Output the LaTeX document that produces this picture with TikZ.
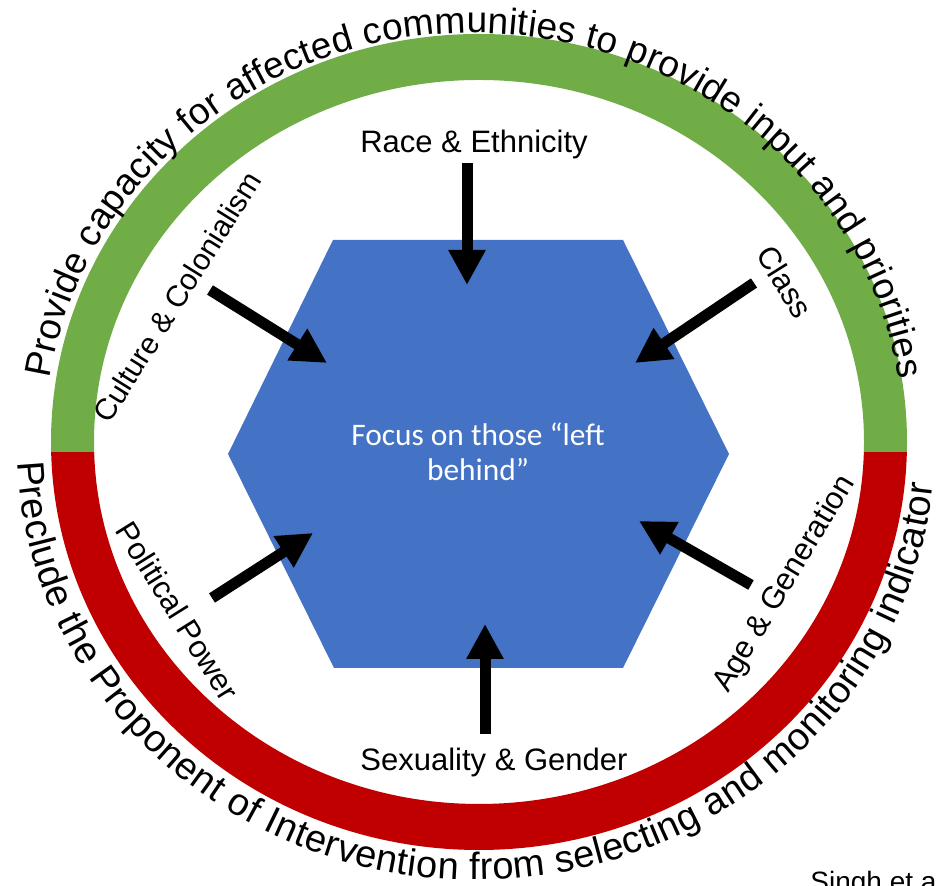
\documentclass[tikz,border=0pt]{standalone}
\usepackage{fontspec}
\setmainfont{Liberation Sans}
\newfontfamily\focusfont{Carlito}
\usetikzlibrary{arrows.meta,decorations.text}
\definecolor{ringgreen}{HTML}{70AD47}
\definecolor{ringred}{HTML}{C00000}
\definecolor{hexblue}{HTML}{4472C4}
\newcommand{\topringfont}{\fontsize{18.5}{21}\selectfont}
\newcommand{\bottomringfont}{\fontsize{19}{21}\selectfont}

\begin{document}
\begin{tikzpicture}[x=0.5pt, y=0.5pt,
    factor/.style={font=\fontsize{15.5}{18}\selectfont, inner sep=0pt},
    inarrow/.style={line width=5.5pt, -{Triangle[width=17.5pt, length=17.5pt]}},
    ringtext/.style={decorate, decoration={text along path, text align={fit to path}}}]
    \useasboundingbox (0,0) rectangle (937,886);

    % Ring, upper half (green)
    \begin{scope}
        \clip (0,433) rectangle (937,886);
        \fill[ringgreen, even odd rule] (479,444) ellipse [x radius=428, y radius=408]
            (479,444) ellipse [x radius=385, y radius=362];
    \end{scope}

    % Ring, lower half (red)
    \begin{scope}
        \clip (0,0) rectangle (937,433);
        \fill[ringred, even odd rule] (479,444) ellipse [x radius=428, y radius=408]
            (479,444) ellipse [x radius=385, y radius=362];
    \end{scope}

    % Text round the ring
    \path[ringtext, decoration={text={|\topringfont|Provide capacity for affected communities to provide input and priorities}}]
        ([shift={(171:430 and 410)}]474,443) arc[start angle=171, end angle=9, x radius=430, y radius=410];
    \path[ringtext, decoration={text={|\bottomringfont|Preclude the Proponent of Intervention from selecting and monitoring indicator}}]
        ([shift={(182.5:459 and 437)}]476,443) arc[start angle=182.5, end angle=354.5, x radius=459, y radius=437];

    % Hexagon
    \fill[hexblue] (333,646) -- (623,646) -- (729,432) -- (623,218) -- (334,218) -- (228,432) -- cycle;
    \node[text=white, align=center, font=\focusfont\fontsize{15.7}{17.5}\selectfont] (focus) at (478,434) {Focus on those “left\\behind”};

    % Factors
    \node[factor, anchor=base] (race) at (474,733) {Race \& Ethnicity};
    \node[factor, anchor=base] (sexuality) at (494,115) {Sexuality \& Gender};
    \node[factor, rotate=58, font=\fontsize{15}{18}\selectfont] (culture) at (177,589) {Culture \& Colonialism};
    \node[factor, rotate=-58] (class) at (785,604) {Class};
    \node[factor, rotate=-58] (political) at (178,275) {Political Power};
    \node[factor, rotate=59] (age) at (785,302) {Age \& Generation};

    % Arrow ends
    \coordinate (race-tail) at (467,723);
    \coordinate (race-tip) at (467,601);
    \coordinate (culture-tail) at (210,596);
    \coordinate (culture-tip) at (327,523);
    \coordinate (class-tail) at (754,603);
    \coordinate (class-tip) at (635,523);
    \coordinate (political-tail) at (212,288);
    \coordinate (political-tip) at (313,353);
    \coordinate (age-tail) at (751,301);
    \coordinate (age-tip) at (639,365);
    \coordinate (sexuality-tail) at (485,152);
    \coordinate (sexuality-tip) at (485,262);

    \draw[inarrow] (race-tail) -- (race-tip);
    \draw[inarrow] (culture-tail) -- (culture-tip);
    \draw[inarrow] (class-tail) -- (class-tip);
    \draw[inarrow] (political-tail) -- (political-tip);
    \draw[inarrow] (age-tail) -- (age-tip);
    \draw[inarrow] (sexuality-tail) -- (sexuality-tip);

    % Source
    \node[font=\fontsize{14}{16}\selectfont, anchor=base west, inner sep=0pt] (source) at (810,-6) {Singh et al.};
\end{tikzpicture}
\end{document}
